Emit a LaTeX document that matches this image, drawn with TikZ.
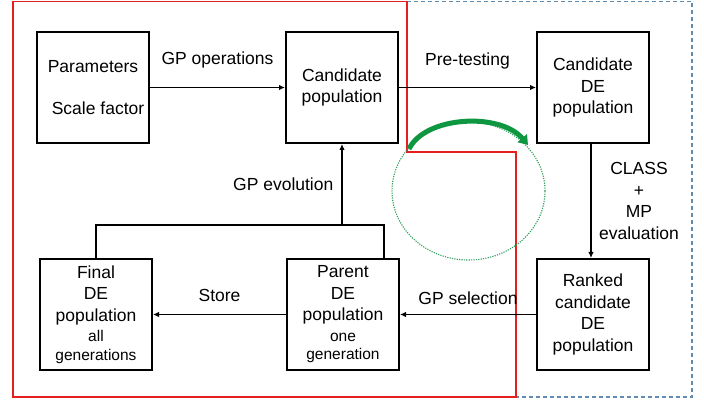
\documentclass[tikz,border=0pt]{standalone}
\usepackage{fontspec}
\setmainfont{Liberation Sans}
\usetikzlibrary{arrows.meta,positioning,calc}
\definecolor{frameRed}{RGB}{230,30,30}
\definecolor{frameBlue}{RGB}{96,140,180}
\definecolor{loopGreen}{RGB}{50,160,95}
\definecolor{swapGreen}{RGB}{14,150,64}
\newcommand\smalltxt{\fontsize{15.5}{19}\selectfont}

\begin{document}
\begin{tikzpicture}[x=1pt, y=1pt, node distance=114pt and 135pt, every node/.style={font=\fontsize{17.5}{21.5}\selectfont, align=center}]

\tikzstyle{popbox} = [rectangle, draw, line width=2pt, text centered, minimum width=112pt, minimum height=111pt, inner sep=2pt]
\tikzstyle{arrow} = [line width=1.6pt, -{Latex[length=6pt,width=5.5pt]}]
\tikzstyle{link} = [line width=1.6pt]
\tikzstyle{swaparrow} = [line width=5pt, swapGreen, -{Triangle[length=9pt,width=12pt]}]

\useasboundingbox (0,0) rectangle (704,399);

% Frames
\draw[frameBlue, line width=1.3pt, dash pattern=on 4pt off 3pt] (407,397.5) -- (692,397.5) -- (692,2) -- (516,2);
\draw[frameRed, line width=1.1pt] (13,397.5) -- (407,397.5) -- (407,247) -- (516,247) -- (516,2) -- (13,2) -- cycle;

% Top row
\node[popbox] (params) at (93,311.5) {Parameters\\[21pt]\hspace*{10pt}Scale factor};
\node[popbox, right=of params] (cand) {Candidate\\population};
\node[popbox, right=137pt of cand] (candDE) {Candidate\\DE\\population};

% Bottom row
\node[popbox, below=of params, xshift=3pt] (final) {Final\\DE\\population\\[-1pt]{\smalltxt all}\\[-3pt]{\smalltxt generations}};
\node[popbox, below=of cand, xshift=1pt] (parent) {Parent\\DE\\population\\[-1pt]{\smalltxt one}\\[-3pt]{\smalltxt generation}};
\node[popbox, below=of candDE] (ranked) {Ranked\\candidate\\DE\\population};

% Arrows
\draw[arrow] (params) -- node[above=15pt]{GP operations} (cand);
\draw[arrow] (cand) -- node[above=14pt]{Pre-testing} (candDE);
\draw[arrow] ([xshift=-2pt]candDE.south) -- node[right=4pt]{CLASS\\+\\MP\\evaluation} ([xshift=-2pt]ranked.north);
\draw[arrow] (ranked) -- node[above=6pt]{GP selection} (parent);
\draw[arrow] (parent) -- node[above=9pt]{Store} (final);
\draw[link] (final.north) -- ++(0,33) coordinate (merge) -| ([xshift=-16pt]parent.north east);
\draw[arrow] (cand.south |- merge) -- node[left=4.5pt]{GP evolution} (cand.south);

% Swap loop
\coordinate (loopc) at (468.5,208);
\draw[loopGreen, line width=1.1pt, dash pattern=on 1.2pt off 1.2pt] (loopc) ellipse [x radius=76.5, y radius=69];
\coordinate (swapL) at (409,250);
\coordinate (swapR) at (528,254);
\draw[swaparrow] (swapL) .. controls (425,283) and (500,287) .. (swapR);

\end{tikzpicture}
\end{document}
